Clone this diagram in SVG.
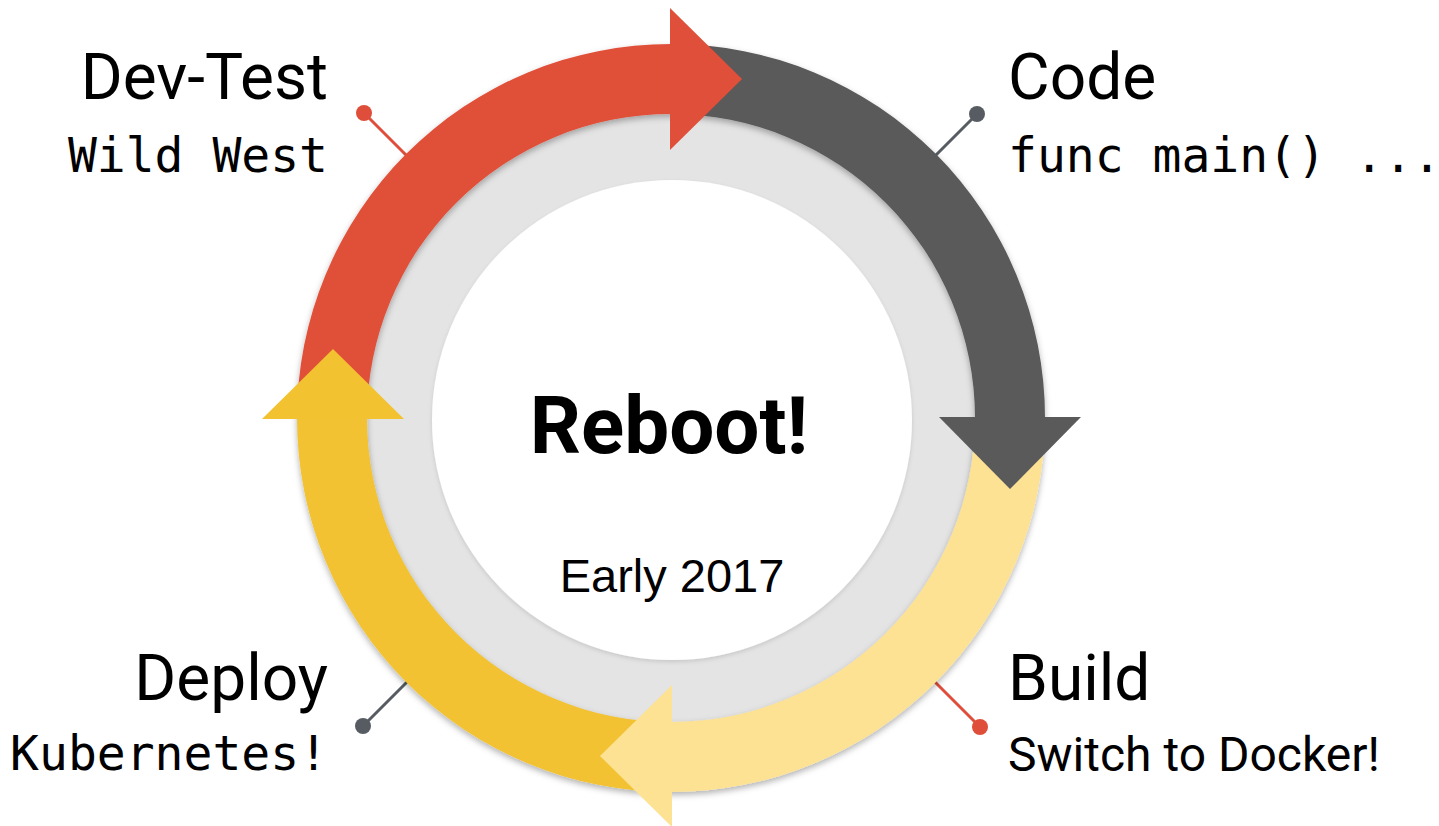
<svg xmlns="http://www.w3.org/2000/svg" width="1439" height="826" viewBox="0 0 1439 826">
  <defs>
    <filter id="bandShadow" x="-10%" y="-10%" width="120%" height="120%">
      <feDropShadow dx="0" dy="3" stdDeviation="3" flood-color="#000" flood-opacity="0.3"/>
    </filter>
    <filter id="softShadow" x="-10%" y="-10%" width="120%" height="120%">
      <feDropShadow dx="0" dy="2" stdDeviation="2" flood-color="#000" flood-opacity="0.12"/>
    </filter>
  </defs>
  <style>
    .title { font-family: Roboto, "Liberation Sans", sans-serif; font-size: 64px; fill: #000; }
    .mono { font-family: "DejaVu Sans Mono", "Liberation Mono", monospace; font-size: 48px; fill: #000; }
    .sub { font-family: Roboto, "Liberation Sans", sans-serif; font-size: 48px; fill: #000; }
    .lead-red { stroke: #DF4E3A; stroke-width: 3; }
    .lead-gray { stroke: #575C63; stroke-width: 3; }
    .dot-red { fill: #DF4E3A; }
    .dot-gray { fill: #575C63; }
  </style>
  <rect width="1439" height="826" fill="#FFFFFF"/>

  <!-- leader lines, tucked under the ring -->
  <g id="connectors">
    <line class="lead-red" x1="364" y1="113" x2="430" y2="179"/>
    <circle class="dot-red" cx="364" cy="113" r="8"/>
    <line class="lead-gray" x1="977" y1="114" x2="911" y2="180"/>
    <circle class="dot-gray" cx="977" cy="114" r="8"/>
    <line class="lead-red" x1="980" y1="727" x2="914" y2="661"/>
    <circle class="dot-red" cx="980" cy="727" r="8"/>
    <line class="lead-gray" x1="363" y1="726" x2="429" y2="660"/>
    <circle class="dot-gray" cx="363" cy="726" r="8"/>
  </g>

  <!-- centre discs -->
  <g id="hub">
    <circle cx="671" cy="418" r="306" fill="#E4E4E4"/>
    <circle cx="672" cy="420" r="240" fill="#FFFFFF" filter="url(#softShadow)"/>
  </g>

  <!-- quarter bands of the cycle -->
  <g id="ring" filter="url(#bandShadow)">
    <path id="band-devtest" d="M297,418 A374,374 0 0 1 671,44 L671,114 A304,304 0 0 0 367,418 Z" fill="#E04F39"/>
    <path id="band-code" d="M671,44 A374,374 0 0 1 1045,418 L975,418 A304,304 0 0 0 671,114 Z" fill="#5A5A5A"/>
    <path id="band-build" d="M1045,418 A374,374 0 0 1 671,792 L671,722 A304,304 0 0 0 975,418 Z" fill="#FDE293"/>
    <path id="band-deploy" d="M671,792 A374,374 0 0 1 297,418 L367,418 A304,304 0 0 0 671,722 Z" fill="#F2C231"/>
  </g>

  <!-- arrowheads at the end of each band -->
  <g id="arrowheads">
    <polygon id="head-devtest" points="670,8 742,79 670,150" fill="#E04F39"/>
    <polygon id="head-code" points="939,417 1081,417 1010,489" fill="#5A5A5A"/>
    <polygon id="head-build" points="672,685 672,827 600,756" fill="#FDE293"/>
    <polygon id="head-deploy" points="262,419 404,419 333,349" fill="#F2C231"/>
  </g>

  <g id="node-devtest">
    <text class="title" x="328" y="99" text-anchor="end">Dev-Test</text>
    <text class="mono" x="328" y="172" text-anchor="end">Wild West</text>
  </g>
  <g id="node-code">
    <text class="title" x="1008" y="99">Code</text>
    <text class="mono" x="1008" y="172">func main() ...</text>
  </g>
  <g id="node-build">
    <text class="title" x="1008" y="700">Build</text>
    <text class="sub" x="1008" y="771">Switch to Docker!</text>
  </g>
  <g id="node-deploy">
    <text class="title" x="328" y="700" text-anchor="end">Deploy</text>
    <text class="mono" x="328" y="770" text-anchor="end">Kubernetes!</text>
  </g>
  <g id="node-centre">
    <text x="669" y="453" text-anchor="middle" font-family="Roboto, 'Liberation Sans', sans-serif" font-weight="bold" font-size="80">Reboot!</text>
    <text x="672" y="592" text-anchor="middle" font-family="'Liberation Sans', Arial, sans-serif" font-size="47">Early 2017</text>
  </g>
</svg>
